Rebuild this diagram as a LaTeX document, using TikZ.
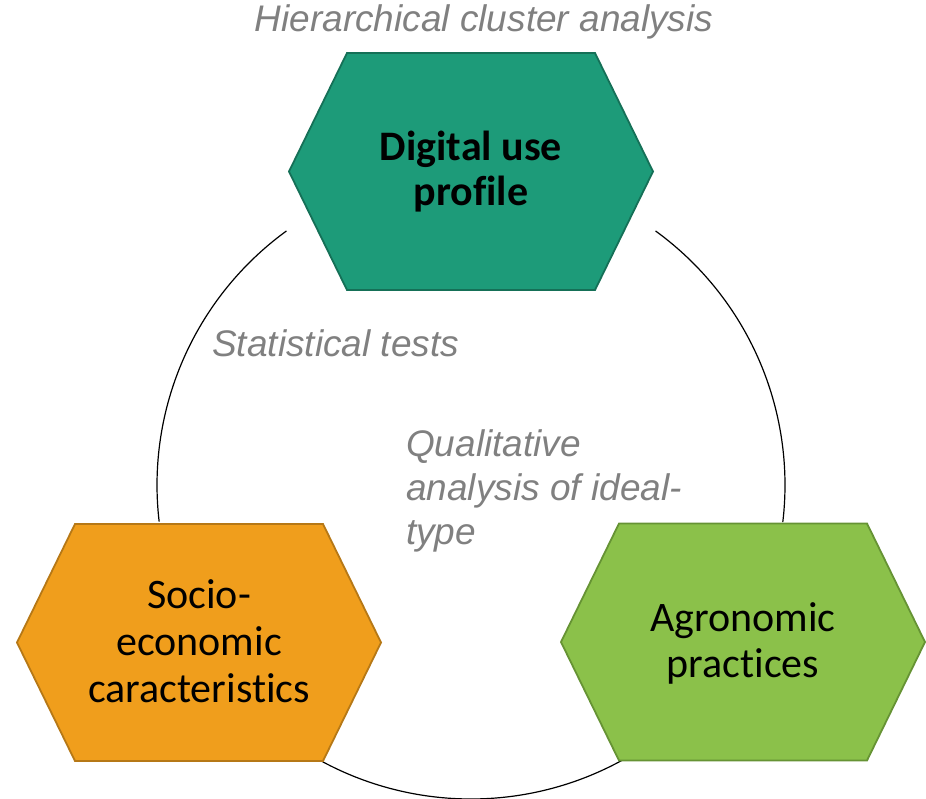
\documentclass[tikz,border=0pt]{standalone}
\usepackage{fontspec}
\setmainfont[Ligatures={NoCommon}]{Carlito}
\newfontfamily\labelfont{Liberation Sans}
\usetikzlibrary{calc}
\definecolor{hexteal}{RGB}{29,155,121}
\definecolor{hextealdark}{RGB}{21,112,87}
\definecolor{hexorange}{RGB}{240,158,28}
\definecolor{hexorangedark}{RGB}{182,120,22}
\definecolor{hexgreen}{RGB}{139,193,74}
\definecolor{hexgreendark}{RGB}{102,147,52}
\definecolor{labelgray}{RGB}{128,128,128}
\tikzset{
  hexshape/.style={line width=1.8pt, line join=miter},
  hextext/.style={inner sep=0pt, align=center, font=\fontsize{42}{47}\selectfont, text=black, anchor=base},
  methodlabel/.style={inner sep=0pt, text=labelgray, font=\labelfont\itshape\fontsize{37}{44}\selectfont},
  ring/.style={draw=black, line width=1.2pt}
}
\newcommand\drawhex[3]{%
  \path[hexshape, fill=#2, draw=#3] ($(#1)+(-182,0)$) -- ++(58,-118.5) -- ++(248,0) -- ++(58,118.5) -- ++(-58,118.5) -- ++(-248,0) -- cycle;}
\begin{document}
\begin{tikzpicture}[x=1pt,y=-1pt]
  \useasboundingbox (0,0) rectangle (926,798);
  \coordinate (ctr) at (471,485);
  \coordinate (topc) at (471,171.5);
  \coordinate (leftc) at (199,642.5);
  \coordinate (rightc) at (743,642);
  % ring segments
  \draw[ring] (ctr) ++(234:314) arc[start angle=234, end angle=173.3, radius=314];
  \draw[ring] (ctr) ++(125:314) arc[start angle=125, end angle=55, radius=314];
  \draw[ring] (ctr) ++(6.8:314) arc[start angle=6.8, end angle=-54, radius=314];
  % hexagons
  \drawhex{topc}{hexteal}{hextealdark}
  \drawhex{leftc}{hexorange}{hexorangedark}
  \drawhex{rightc}{hexgreen}{hexgreendark}
  % hexagon texts (base anchor = last line's baseline)
  \node[hextext, font=\bfseries\fontsize{42}{45}\selectfont] (digital) at (471,205) {Digital use\\profile};
  \node[hextext] (socio) at (199,702) {Socio-\\economic\\caracteristics};
  \node[hextext, font=\fontsize{42}{46}\selectfont] (agro) at (743,677) {Agronomic\\practices};
  % method labels
  \node[methodlabel, anchor=base] (hca) at (484,31) {Hierarchical cluster analysis};
  \node[methodlabel, anchor=base west] (stat) at (212,356) {Statistical tests};
  \node[methodlabel, anchor=base west, align=left] (qual) at (406,544) {Qualitative\\analysis of ideal-\\type};
\end{tikzpicture}
\end{document}
